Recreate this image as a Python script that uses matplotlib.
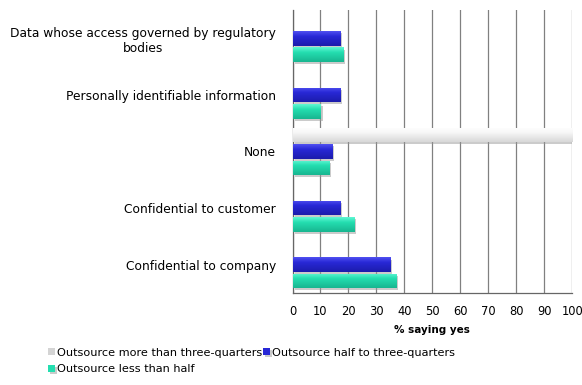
import numpy as np
import matplotlib
matplotlib.use('Agg')
import matplotlib.pyplot as plt
from matplotlib.colors import to_rgb
import matplotlib.patheffects as pe

# categories, top to bottom
categories = ['Data whose access governed by regulatory\nbodies',
              'Personally identifiable information',
              'None',
              'Confidential to customer',
              'Confidential to company']

# % saying yes per outsourcing group
more_than_three_quarters = [0, 0, 100, 0, 0]
half_to_three_quarters = [17, 17, 14, 17, 35]
less_than_half = [18, 10, 13, 22, 37]

series_names = ['Outsource more than three-quarters',
                'Outsource half to three-quarters',
                'Outsource less than half']
# (top, middle, bottom) shades for each series
shades = [('#ffffff', '#f7f7f7', '#d8d8d8'),
          ('#5050f0', '#2828d6', '#1c1cac'),
          ('#60f7d4', '#24deb0', '#18b690')]

xticks = list(range(0, 101, 10))

plt.rcParams['font.family'] = 'DejaVu Sans'

fig = plt.figure(figsize=(5.82, 3.85), dpi=100)
ax = fig.add_axes([0.5026, 0.239, 0.4805, 0.735])

y = np.arange(len(categories))
bar_h = 0.256
offsets = [-0.29, 0.0, 0.29]
values = [more_than_three_quarters, half_to_three_quarters, less_than_half]

def shade_bar(ax, patch, cols):
    # vertical gradient painted inside the bar
    top, mid, bot = [np.array(to_rgb(c)) for c in cols]
    n = 40
    t = np.linspace(0, 1, n)
    grad = np.zeros((n, 2, 3))
    for i, v in enumerate(t):
        if v < 0.35:
            c = top + (mid - top) * (v / 0.35)
        else:
            c = mid + (bot - mid) * ((v - 0.35) / 0.65)
        grad[i, :, :] = c
    x0, y0 = patch.get_x(), patch.get_y()
    w, h = patch.get_width(), patch.get_height()
    im = ax.imshow(grad, extent=(x0, x0 + w, y0 + h, y0), origin='upper',
                   aspect='auto', zorder=3, interpolation='bilinear')
    im.set_clip_path(patch)

handles = []
for k in range(3):
    bars = ax.barh(y + offsets[k], values[k], height=bar_h,
                   color=shades[k][1], edgecolor='none', zorder=2,
                   label=series_names[k])
    handles.append(bars)
    for b in bars:
        if b.get_width() <= 0:
            continue
        b.set_path_effects([pe.SimplePatchShadow(offset=(1.5, -1.5),
                                                 shadow_rgbFace='#999999',
                                                 alpha=0.5), pe.Normal()])
        shade_bar(ax, b, shades[k])

ax.set_xlim(0, 100)
ax.set_ylim(len(categories) - 0.5, -0.5)
ax.set_xticks(xticks)
ax.set_xticklabels([str(v) for v in xticks], fontsize=8.3)
ax.set_yticks(y)
ax.set_yticklabels(categories, fontsize=8.8, multialignment='center')
ax.tick_params(axis='both', length=0)
ax.tick_params(axis='x', pad=9)
ax.tick_params(axis='y', pad=12)
ax.xaxis.grid(True, color='#808080', linewidth=0.9, zorder=0)
ax.set_axisbelow(True)
for s in ['top', 'right']:
    ax.spines[s].set_visible(False)
for s in ['left', 'bottom']:
    ax.spines[s].set_color('#666666')
    ax.spines[s].set_linewidth(0.9)
ax.set_xlabel('% saying yes', fontsize=7.5, fontweight='bold', labelpad=5)

# legend fills column-wise, so order it to read row by row
leg = fig.legend([handles[0], handles[2], handles[1]],
                 [series_names[0], series_names[2], series_names[1]],
                 ncol=2, loc='upper left', bbox_to_anchor=(0.083, 0.097),
                 frameon=False, fontsize=8.1, handlelength=0.6,
                 handleheight=0.6, handletextpad=0.15, columnspacing=0.1,
                 labelspacing=0.6, borderpad=0, borderaxespad=0)
leg.legend_handles[0].set_facecolor('#d4d4d4')

fig.savefig('out.png', dpi=100)
